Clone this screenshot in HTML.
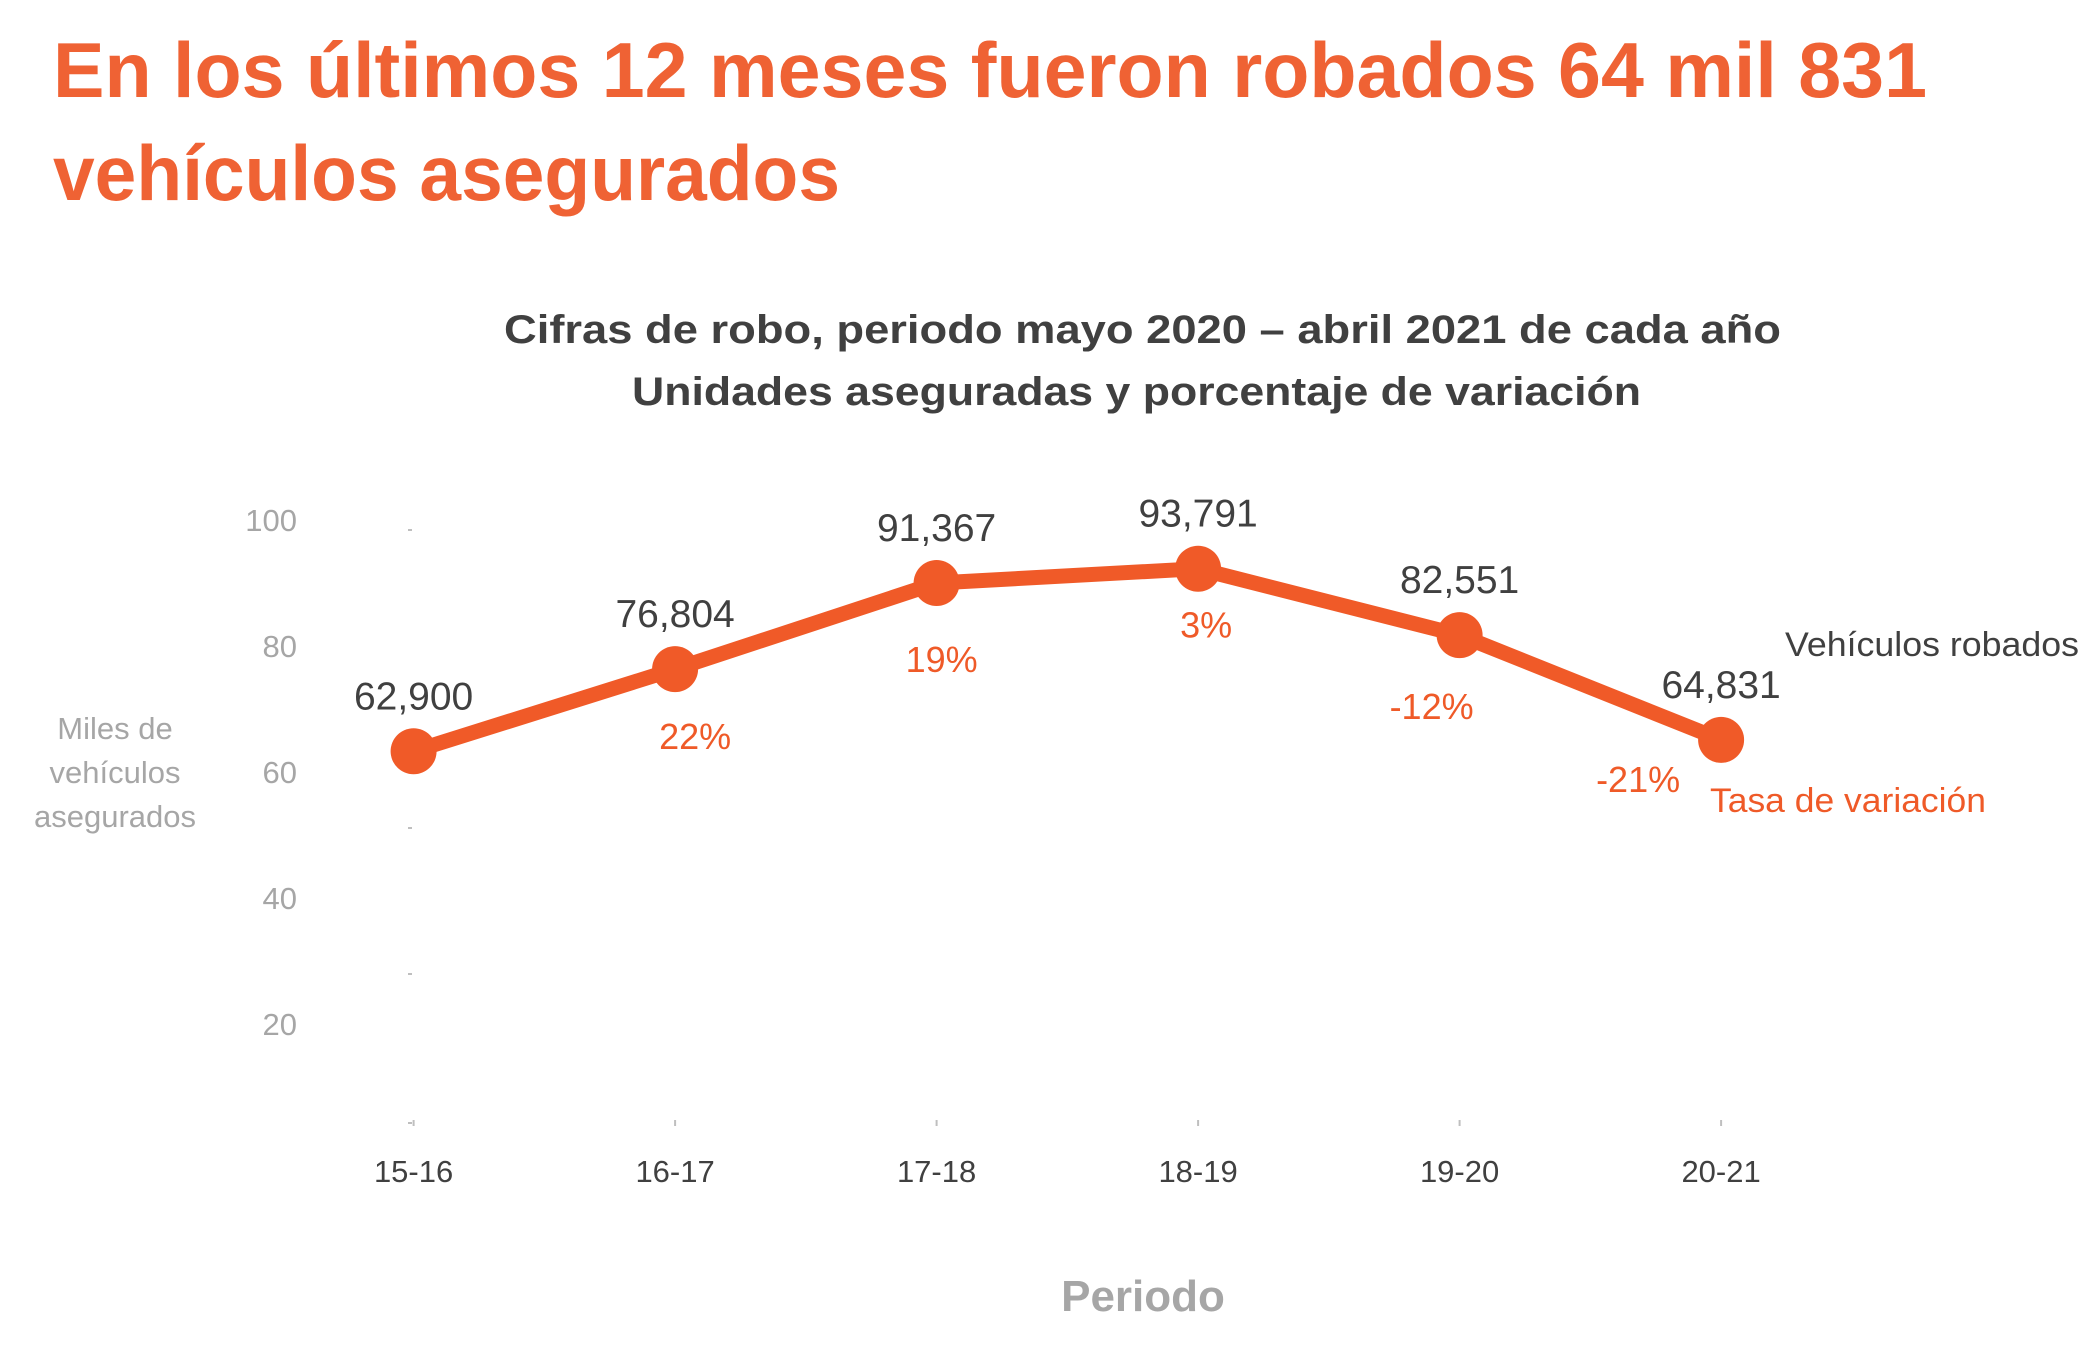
<!DOCTYPE html>
<html><head><meta charset="utf-8"><style>
body{margin:0;background:#fff}
svg{display:block;font-family:"Liberation Sans",sans-serif}
</style></head><body>
<svg id="chart" width="2092" height="1352" viewBox="0 0 2092 1352" xmlns="http://www.w3.org/2000/svg">
<text x="53" y="97" font-size="78" font-weight="bold" fill="#ef6234" textLength="1874" lengthAdjust="spacingAndGlyphs">En los últimos 12 meses fueron robados 64 mil 831</text>
<text x="53" y="200" font-size="78" font-weight="bold" fill="#ef6234" textLength="787" lengthAdjust="spacingAndGlyphs">vehículos asegurados</text>
<text x="504" y="343" font-size="40" font-weight="bold" fill="#404040" textLength="1277" lengthAdjust="spacingAndGlyphs">Cifras de robo, periodo mayo 2020 – abril 2021 de cada año</text>
<text x="632" y="405" font-size="40" font-weight="bold" fill="#404040" textLength="1009" lengthAdjust="spacingAndGlyphs">Unidades aseguradas y porcentaje de variación</text>
<g fill="#a6a6a6" font-size="31" text-anchor="middle">
<text x="115" y="739">Miles de</text><text x="115" y="783">vehículos</text><text x="115" y="827">asegurados</text>
</g>
<text x="1143" y="1311" font-size="44" font-weight="bold" fill="#a6a6a6" text-anchor="middle">Periodo</text>
<text x="1785" y="656" font-size="34" fill="#404040" textLength="294" lengthAdjust="spacingAndGlyphs">Vehículos robados</text>
<text x="1710" y="812" font-size="34" fill="#ef5a28" textLength="276" lengthAdjust="spacingAndGlyphs">Tasa de variación</text>
<g id="plot"></g>
</svg>
<script>
const categories=["15-16","16-17","17-18","18-19","19-20","20-21"];
const values=[62.900,76.804,91.367,93.791,82.551,64.831];
const valueLabels=["62,900","76,804","91,367","93,791","82,551","64,831"];
const pctLabels=["","22%","19%","3%","-12%","-21%"];
const pctDx=[0,20,5,8,-28,-83];
const pctDy=[0,68,77,57,72,40];
const yTicks=[100,80,60,40,20];
const NS="http://www.w3.org/2000/svg";
const plot=document.getElementById('plot');
const xS=i=>413.6+i*261.5;
const yS=v=>1123-v*5.91;
const yLab=v=>520+(100-v)*6.3;
function mk(tag,attrs,txt){const e=document.createElementNS(NS,tag);for(const k in attrs)e.setAttribute(k,attrs[k]);if(txt!==undefined)e.textContent=txt;plot.appendChild(e);return e;}
yTicks.forEach(v=>{
 const t=mk('text',{x:297,y:yLab(v)+11,'font-size':31,fill:'#a6a6a6','text-anchor':'end'},String(v));
 
 
});
[530,828,974,1123].forEach(y=>{const l=mk('line',{x1:408,x2:412,y1:y,y2:y,stroke:'#bfbfbf','stroke-width':2});
 
 });
categories.forEach((c,i)=>{
 const tk=mk('line',{x1:xS(i),x2:xS(i),y1:1120,y2:1126,stroke:'#bfbfbf','stroke-width':2});
 
 
 const t=mk('text',{x:xS(i),y:1182,'font-size':31,fill:'#404040','text-anchor':'middle'},c);
 
 
});
const pl=mk('polyline',{points:values.map((v,i)=>xS(i)+','+yS(v)).join(' '),fill:'none',stroke:'#f05a28','stroke-width':15,'stroke-linejoin':'round'});


values.forEach((v,i)=>{
 const c=mk('circle',{cx:xS(i),cy:yS(v),r:23,fill:'#f05a28'});
 
 
 const t=mk('text',{x:xS(i),y:yS(v)-42,'font-size':39,fill:'#404040','text-anchor':'middle'},valueLabels[i]);
 
 
 if(pctLabels[i]){
  const p=mk('text',{x:xS(i)+pctDx[i],y:yS(v)+pctDy[i]+12,'font-size':36,fill:'#ef5a28','text-anchor':'middle'},pctLabels[i]);
  
  
 }
});
</script>
</body></html>
